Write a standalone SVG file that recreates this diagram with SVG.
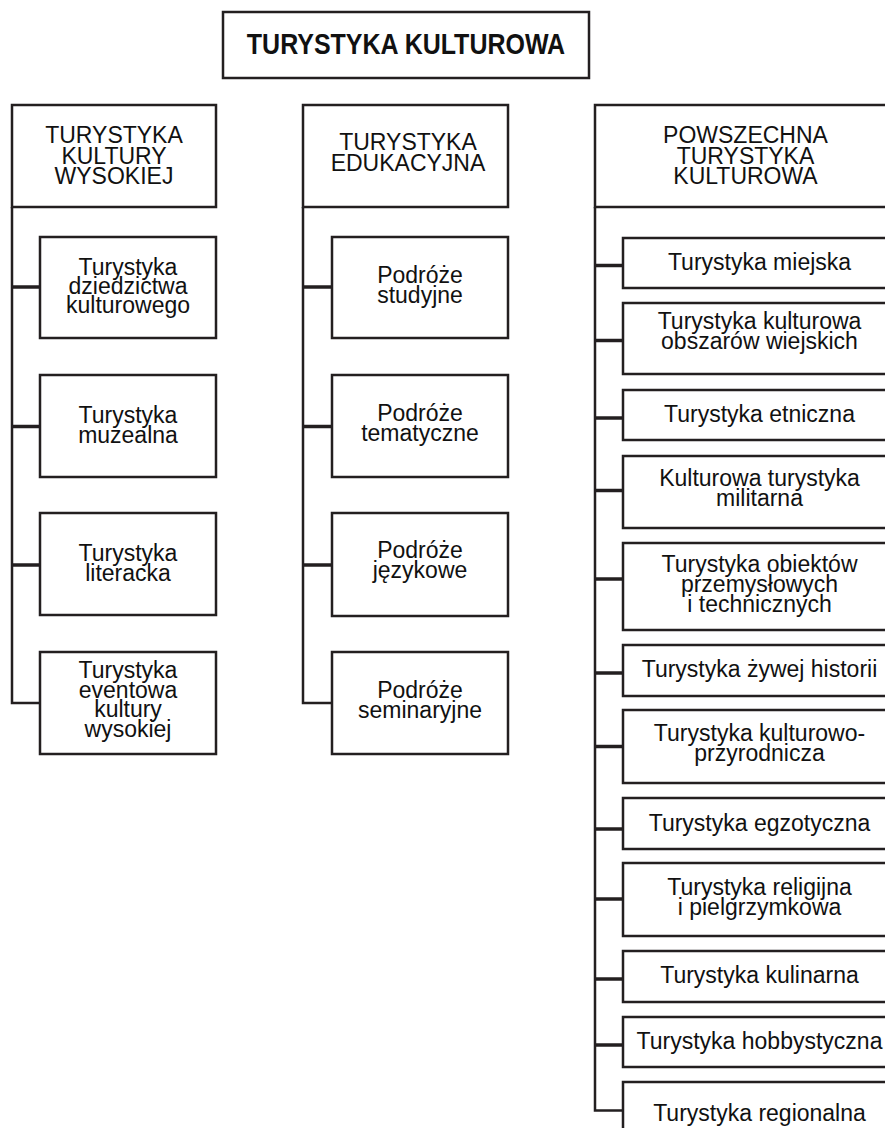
<svg xmlns="http://www.w3.org/2000/svg" width="885" height="1128" viewBox="0 0 885 1128">
  <style>
    .box { fill: #ffffff; stroke: #231f20; stroke-width: 2.5; }
    .spine { fill: none; stroke: #231f20; stroke-width: 2.5; }
    .tick { stroke: #231f20; stroke-width: 3.5; }
    text { font-family: "Liberation Sans", Arial, Helvetica, sans-serif; font-size: 23px; fill: #111111; text-anchor: middle; }
    .title { font-weight: bold; font-size: 25px; }
  </style>
  <rect width="885" height="1128" fill="#ffffff"/>

  <!-- connectors -->
  <g id="connectors">
    <!-- left branch -->
    <path class="spine" d="M12,207 V703 H40"/>
    <line class="tick" x1="12" y1="287" x2="40" y2="287"/>
    <line class="tick" x1="12" y1="426.5" x2="40" y2="426.5"/>
    <line class="tick" x1="12" y1="565" x2="40" y2="565"/>
    <!-- middle branch -->
    <path class="spine" d="M303,207 V703 H332"/>
    <line class="tick" x1="303" y1="287" x2="332" y2="287"/>
    <line class="tick" x1="303" y1="426.5" x2="332" y2="426.5"/>
    <line class="tick" x1="303" y1="565" x2="332" y2="565"/>
    <!-- right branch -->
    <path class="spine" d="M595,207 V1110.5 H623"/>
    <line class="tick" x1="595" y1="265.5" x2="623" y2="265.5"/>
    <line class="tick" x1="595" y1="340.5" x2="623" y2="340.5"/>
    <line class="tick" x1="595" y1="418" x2="623" y2="418"/>
    <line class="tick" x1="595" y1="490.5" x2="623" y2="490.5"/>
    <line class="tick" x1="595" y1="579" x2="623" y2="579"/>
    <line class="tick" x1="595" y1="673" x2="623" y2="673"/>
    <line class="tick" x1="595" y1="746.5" x2="623" y2="746.5"/>
    <line class="tick" x1="595" y1="829" x2="623" y2="829"/>
    <line class="tick" x1="595" y1="899" x2="623" y2="899"/>
    <line class="tick" x1="595" y1="979" x2="623" y2="979"/>
    <line class="tick" x1="595" y1="1045" x2="623" y2="1045"/>
  </g>

  <!-- root -->
  <g id="root">
    <rect class="box" x="223" y="12" width="366" height="66"/>
    <text class="title" transform="translate(406,53.5) scale(1,1.18)">TURYSTYKA KULTUROWA</text>
  </g>

  <!-- left column -->
  <g id="kultura-wysoka">
    <rect class="box" x="12" y="105" width="204" height="102"/>
    <text x="114" y="143">TURYSTYKA</text>
    <text x="114" y="163.5">KULTURY</text>
    <text x="114" y="184">WYSOKIEJ</text>
  </g>
  <g id="dziedzictwo">
    <rect class="box" x="40" y="237" width="176" height="101"/>
    <text x="128" y="275">Turystyka</text>
    <text x="128" y="294">dziedzictwa</text>
    <text x="128" y="313">kulturowego</text>
  </g>
  <g id="muzealna">
    <rect class="box" x="40" y="375" width="176" height="102"/>
    <text x="128" y="423">Turystyka</text>
    <text x="128" y="443">muzealna</text>
  </g>
  <g id="literacka">
    <rect class="box" x="40" y="513" width="176" height="102"/>
    <text x="128" y="561">Turystyka</text>
    <text x="128" y="581">literacka</text>
  </g>
  <g id="eventowa">
    <rect class="box" x="40" y="652" width="176" height="102"/>
    <text x="128" y="678">Turystyka</text>
    <text x="128" y="697.5">eventowa</text>
    <text x="128" y="717">kultury</text>
    <text x="128" y="736.5">wysokiej</text>
  </g>

  <!-- middle column -->
  <g id="edukacyjna">
    <rect class="box" x="303" y="105" width="205" height="102"/>
    <text x="408" y="150">TURYSTYKA</text>
    <text x="408" y="171">EDUKACYJNA</text>
  </g>
  <g id="studyjne">
    <rect class="box" x="332" y="237" width="176" height="101"/>
    <text x="420" y="283">Podróże</text>
    <text x="420" y="303">studyjne</text>
  </g>
  <g id="tematyczne">
    <rect class="box" x="332" y="375" width="176" height="102"/>
    <text x="420" y="421">Podróże</text>
    <text x="420" y="441">tematyczne</text>
  </g>
  <g id="jezykowe">
    <rect class="box" x="332" y="513" width="176" height="103"/>
    <text x="420" y="558">Podróże</text>
    <text x="420" y="578">językowe</text>
  </g>
  <g id="seminaryjne">
    <rect class="box" x="332" y="652" width="176" height="102"/>
    <text x="420" y="698">Podróże</text>
    <text x="420" y="718">seminaryjne</text>
  </g>

  <!-- right column -->
  <g id="powszechna">
    <rect class="box" x="595" y="105" width="300" height="102"/>
    <text x="745.5" y="143">POWSZECHNA</text>
    <text x="745.5" y="163.5">TURYSTYKA</text>
    <text x="745.5" y="184">KULTUROWA</text>
  </g>
  <g id="miejska">
    <rect class="box" x="623" y="238" width="273" height="50"/>
    <text x="759.5" y="270">Turystyka miejska</text>
  </g>
  <g id="wiejska">
    <rect class="box" x="623" y="303" width="273" height="71"/>
    <text x="759.5" y="328.5">Turystyka kulturowa</text>
    <text x="759.5" y="348.5">obszarów wiejskich</text>
  </g>
  <g id="etniczna">
    <rect class="box" x="623" y="390" width="273" height="50"/>
    <text x="759.5" y="422">Turystyka etniczna</text>
  </g>
  <g id="militarna">
    <rect class="box" x="623" y="456" width="273" height="72"/>
    <text x="759.5" y="486">Kulturowa turystyka</text>
    <text x="759.5" y="506">militarna</text>
  </g>
  <g id="przemyslowa">
    <rect class="box" x="623" y="543" width="273" height="87"/>
    <text x="759.5" y="572">Turystyka obiektów</text>
    <text x="759.5" y="592">przemysłowych</text>
    <text x="759.5" y="612">i technicznych</text>
  </g>
  <g id="zywa-historia">
    <rect class="box" x="623" y="645" width="273" height="51"/>
    <text x="759.5" y="677">Turystyka żywej historii</text>
  </g>
  <g id="przyrodnicza">
    <rect class="box" x="623" y="710" width="273" height="73"/>
    <text x="759.5" y="741">Turystyka kulturowo-</text>
    <text x="759.5" y="761">przyrodnicza</text>
  </g>
  <g id="egzotyczna">
    <rect class="box" x="623" y="798" width="273" height="51"/>
    <text x="759.5" y="830.5">Turystyka egzotyczna</text>
  </g>
  <g id="religijna">
    <rect class="box" x="623" y="863" width="273" height="73"/>
    <text x="759.5" y="895">Turystyka religijna</text>
    <text x="759.5" y="915">i pielgrzymkowa</text>
  </g>
  <g id="kulinarna">
    <rect class="box" x="623" y="951" width="273" height="51"/>
    <text x="759.5" y="983">Turystyka kulinarna</text>
  </g>
  <g id="hobbystyczna">
    <rect class="box" x="623" y="1017" width="273" height="50"/>
    <text x="759.5" y="1049">Turystyka hobbystyczna</text>
  </g>
  <g id="regionalna">
    <rect class="box" x="623" y="1082" width="273" height="60"/>
    <text x="759.5" y="1121">Turystyka regionalna</text>
  </g>
</svg>
